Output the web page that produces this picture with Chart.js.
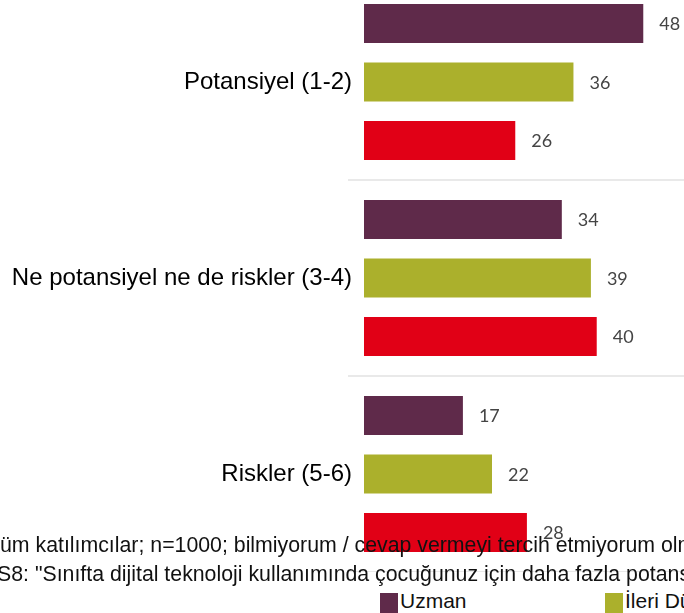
<!DOCTYPE html>
<html>
<head>
<meta charset="utf-8">
<script src="https://cdn.jsdelivr.net/npm/chart.js@4"></script>
<style>
  html, body { margin: 0; padding: 0; background: #fff; }
  body { width: 684px; height: 613px; position: relative; overflow: hidden; }
  #chartBox { position: absolute; left: 0; top: -16px; width: 684px; height: 588px; }
  .note {
    position: absolute; white-space: nowrap; z-index: 2;
    font-family: "Liberation Sans", Arial, sans-serif; font-size: 21.3px; line-height: 21px; color: #111;
  }
  .leg { position: absolute; top: 590px; font-family: "Liberation Sans", Arial, sans-serif;
    font-size: 21px; line-height: 21px; color: #111; white-space: nowrap; z-index: 2; }
  .leg i { position: absolute; left: -20px; top: 3px; width: 18px; height: 20px; }
</style>
</head>
<body>
<div id="chartBox"><canvas id="chartRisk" width="684" height="588"></canvas></div>
<div class="note" style="left:-13px; top:535px;">Tüm katılımcılar; n=1000; bilmiyorum / cevap vermeyi tercih etmiyorum olmayanlar</div>
<div class="note" style="left:-3px; top:564px;">S8: "Sınıfta dijital teknoloji kullanımında çocuğunuz için daha fazla potansiyel mi yoksa risk mi görüyorsunuz?"</div>
<div id="legendRow"></div>

<script>
// categories and values
const categories = ["Potansiyel (1-2)", "Ne potansiyel ne de riskler (3-4)", "Riskler (5-6)"];
const seriesNames = ["Uzman", "İleri Düzey", "Başlangıç"];
const uzmanValues = [48, 34, 17];
const ileriValues = [36, 39, 22];
const baslangicValues = [26, 40, 28];
const seriesColors = ["#5f2a4a", "#abb02c", "#e10016"];
const legendLefts = [400, 625, 850];

// little plugin to write the value next to each bar
const valueLabels = {
  id: "valueLabels",
  afterDatasetsDraw(chart) {
    const ctx = chart.ctx;
    ctx.save();
    ctx.font = "18px Lato, 'Open Sans', sans-serif";
    ctx.fillStyle = "#444";
    ctx.textAlign = "left";
    ctx.textBaseline = "middle";
    chart.data.datasets.forEach((ds, i) => {
      chart.getDatasetMeta(i).data.forEach((bar, j) => {
        ctx.fillText(ds.data[j], bar.x + 16, bar.y + 1);
      });
    });
    ctx.restore();
  }
};

document.addEventListener("DOMContentLoaded", function() {
  const allValues = [uzmanValues, ileriValues, baslangicValues];

  new Chart("chartRisk", {
    type: "bar",
    data: {
      labels: categories,
      datasets: allValues.map((vals, i) => ({
        label: seriesNames[i],
        data: vals,
        backgroundColor: seriesColors[i],
        categoryPercentage: 0.895,
        barPercentage: 0.67
      }))
    },
    options: {
      indexAxis: "y",
      responsive: false,
      animation: false,
      layout: { padding: 0 },
      plugins: {
        legend: { display: false },
        tooltip: { enabled: false }
      },
      scales: {
        x: {
          display: false,
          min: 0,
          max: 55
        },
        y: {
          afterFit: (scale) => {
            scale.width = 364;
            scale.paddingTop = 0;
            scale.paddingBottom = 0;
          },
          border: { display: false },
          grid: {
            color: "#e9e9e9",
            lineWidth: 2,
            tickLength: 16
          },
          ticks: {
            padding: -4,
            color: "#000",
            font: { family: "'Liberation Sans', Arial, sans-serif", size: 24 }
          }
        }
      }
    },
    plugins: [valueLabels]
  });

  // legend row at the bottom
  const row = document.getElementById("legendRow");
  seriesNames.forEach((name, i) => {
    const item = document.createElement("span");
    item.className = "leg";
    item.style.left = legendLefts[i] + "px";
    item.innerHTML = '<i style="background:' + seriesColors[i] + '"></i>' + name;
    row.appendChild(item);
  });
});
</script>
</body>
</html>
